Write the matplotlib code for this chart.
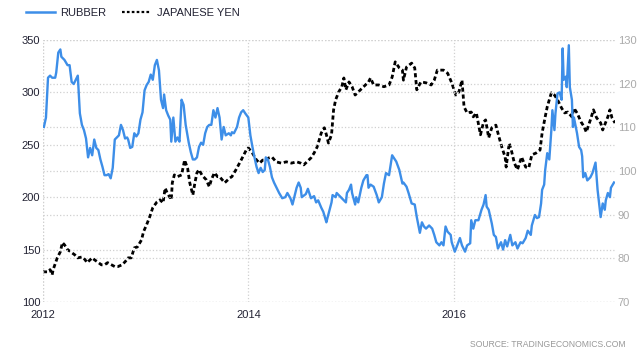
import matplotlib
matplotlib.use("Agg")
import matplotlib.pyplot as plt
from matplotlib.lines import Line2D

plt.rcParams['font.family'] = ['Liberation Sans', 'DejaVu Sans']

# rubber price (left axis), decimal years
rubber_t = [2012.01, 2012.03, 2012.05, 2012.07, 2012.09, 2012.12, 2012.13, 2012.15, 2012.17, 2012.18,
            2012.21, 2012.24, 2012.26, 2012.28, 2012.30, 2012.32, 2012.34, 2012.36, 2012.38, 2012.40,
            2012.42, 2012.44, 2012.46, 2012.48, 2012.50, 2012.52, 2012.54, 2012.56, 2012.58, 2012.60,
            2012.62, 2012.64, 2012.66, 2012.68, 2012.70, 2012.72, 2012.74, 2012.76, 2012.78, 2012.80,
            2012.82, 2012.83, 2012.85, 2012.87, 2012.89, 2012.91, 2012.93, 2012.95, 2012.97, 2012.99,
            2013.01, 2013.03, 2013.05, 2013.07, 2013.09, 2013.11, 2013.13, 2013.15, 2013.17, 2013.18,
            2013.20, 2013.22, 2013.24, 2013.25, 2013.27, 2013.29, 2013.31, 2013.33, 2013.35, 2013.37,
            2013.39, 2013.42, 2013.44, 2013.46, 2013.48, 2013.50, 2013.51, 2013.52, 2013.54, 2013.56,
            2013.58, 2013.60, 2013.62, 2013.64, 2013.66, 2013.68, 2013.70, 2013.72, 2013.74, 2013.76,
            2013.78, 2013.81, 2013.83, 2013.84, 2013.86, 2013.89, 2013.91, 2013.93, 2013.95, 2013.97,
            2014.00, 2014.02, 2014.04, 2014.06, 2014.08, 2014.10, 2014.12, 2014.14, 2014.16, 2014.17,
            2014.19, 2014.21, 2014.23, 2014.25, 2014.27, 2014.30, 2014.33, 2014.36, 2014.38, 2014.41,
            2014.43, 2014.47, 2014.49, 2014.51, 2014.52, 2014.56, 2014.58, 2014.61, 2014.64, 2014.66,
            2014.68, 2014.71, 2014.73, 2014.76, 2014.77, 2014.81, 2014.82, 2014.85, 2014.86, 2014.90,
            2014.93, 2014.95, 2014.96, 2014.98, 2015.00, 2015.01, 2015.04, 2015.05, 2015.07, 2015.10,
            2015.12, 2015.15, 2015.16, 2015.17, 2015.19, 2015.22, 2015.25, 2015.27, 2015.30, 2015.32,
            2015.34, 2015.37, 2015.40, 2015.44, 2015.47, 2015.50, 2015.51, 2015.54, 2015.56, 2015.59,
            2015.62, 2015.64, 2015.67, 2015.69, 2015.71, 2015.73, 2015.76, 2015.79, 2015.81, 2015.83,
            2015.86, 2015.88, 2015.90, 2015.92, 2015.94, 2015.97, 2015.98, 2016.01, 2016.03, 2016.06,
            2016.08, 2016.11, 2016.13, 2016.16, 2016.17, 2016.19, 2016.21, 2016.24, 2016.27, 2016.29,
            2016.31, 2016.32, 2016.34, 2016.37, 2016.39, 2016.41, 2016.43, 2016.46, 2016.48, 2016.50,
            2016.52, 2016.55, 2016.57, 2016.60, 2016.62, 2016.65, 2016.67, 2016.70, 2016.72, 2016.75,
            2016.76, 2016.79, 2016.81, 2016.83, 2016.85, 2016.86, 2016.88, 2016.89, 2016.91, 2016.93,
            2016.95, 2016.96, 2016.98, 2016.99, 2017.01, 2017.03, 2017.05, 2017.06, 2017.07, 2017.09,
            2017.10, 2017.12, 2017.13, 2017.15, 2017.16, 2017.17, 2017.18, 2017.20, 2017.22, 2017.24,
            2017.25, 2017.26, 2017.28, 2017.30, 2017.33, 2017.35, 2017.38, 2017.40, 2017.43, 2017.45,
            2017.47, 2017.48, 2017.50, 2017.52, 2017.53, 2017.56]
rubber_v = [267, 276, 314, 316, 314, 314, 319, 338, 341, 334,
            331, 326, 326, 310, 308, 312, 316, 280, 269, 264,
            256, 238, 247, 240, 255, 247, 245, 236, 229, 221,
            221, 222, 218, 228, 255, 257, 259, 269, 264, 256,
            257, 255, 247, 248, 261, 258, 261, 274, 281, 302,
            307, 310, 317, 312, 326, 331, 321, 293, 285, 298,
            283, 278, 274, 253, 276, 253, 257, 253, 293, 288,
            269, 252, 243, 236, 236, 238, 243, 248, 252, 250,
            261, 267, 269, 269, 283, 276, 285, 276, 255, 267,
            259, 261, 259, 262, 261, 267, 276, 281, 283, 280,
            276, 259, 248, 238, 229, 223, 228, 224, 226, 238,
            236, 229, 219, 214, 210, 204, 199, 200, 204, 199,
            193, 209, 214, 209, 200, 203, 208, 199, 201, 195,
            197, 190, 186, 176, 180, 195, 202, 200, 204, 200,
            197, 195, 204, 207, 212, 204, 193, 200, 195, 209,
            216, 221, 221, 209, 212, 210, 202, 195, 200, 213,
            223, 221, 240, 234, 226, 213, 214, 210, 204,
            194, 193, 181, 166, 176, 172, 170, 173, 170, 164,
            157, 154, 157, 154, 172, 167, 164, 157, 148, 153,
            161, 154, 148, 154, 156, 178, 170, 178, 178, 188,
            193, 202, 191, 188, 175, 164, 162, 151, 157, 150,
            159, 153, 164, 154, 157, 151, 157, 156, 161, 168,
            164, 173, 183, 180, 181, 194, 207, 212, 226, 242,
            236, 264, 283, 264, 280, 299, 300, 293, 342, 312,
            315, 305, 345, 305, 293, 267, 276, 271, 261, 248,
            245, 239, 219, 223, 216, 219, 223, 233, 207, 181,
            194, 188, 197, 204, 200, 209, 214]

# japanese yen per usd (right axis)
yen_t = [2012.00, 2012.03, 2012.05, 2012.07, 2012.09, 2012.10, 2012.14, 2012.17, 2012.19, 2012.21,
         2012.24, 2012.28, 2012.31, 2012.34, 2012.38, 2012.41, 2012.43, 2012.48, 2012.50, 2012.53,
         2012.57, 2012.60, 2012.63, 2012.67, 2012.70, 2012.73, 2012.77, 2012.80, 2012.83, 2012.86,
         2012.89, 2012.92, 2012.96, 2012.98, 2013.01, 2013.04, 2013.07, 2013.11, 2013.14, 2013.17,
         2013.19, 2013.21, 2013.25, 2013.26, 2013.28, 2013.31, 2013.35, 2013.38, 2013.41, 2013.43,
         2013.46, 2013.48, 2013.50, 2013.52, 2013.55, 2013.59, 2013.62, 2013.64, 2013.67, 2013.70,
         2013.72, 2013.77, 2013.82, 2013.84, 2013.88, 2013.93, 2013.98, 2014.00, 2014.04, 2014.08,
         2014.11, 2014.14, 2014.17, 2014.20, 2014.23, 2014.27, 2014.32, 2014.37, 2014.42, 2014.47,
         2014.51, 2014.54, 2014.57, 2014.61, 2014.64, 2014.67, 2014.71, 2014.74, 2014.76, 2014.78,
         2014.81, 2014.83, 2014.85, 2014.88, 2014.91, 2014.93, 2014.95, 2014.98, 2015.01, 2015.04,
         2015.07, 2015.11, 2015.14, 2015.17, 2015.19, 2015.22, 2015.27, 2015.32, 2015.37, 2015.40,
         2015.43, 2015.47, 2015.50, 2015.51, 2015.54, 2015.59, 2015.62, 2015.64, 2015.68, 2015.73,
         2015.78, 2015.81, 2015.84, 2015.90, 2015.94, 2015.98, 2016.02, 2016.05, 2016.08, 2016.10,
         2016.13, 2016.17, 2016.19, 2016.22, 2016.26, 2016.29, 2016.31, 2016.34, 2016.37, 2016.41,
         2016.44, 2016.47, 2016.50, 2016.51, 2016.54, 2016.56, 2016.59, 2016.62, 2016.66, 2016.70,
         2016.73, 2016.76, 2016.80, 2016.84, 2016.86, 2016.89, 2016.91, 2016.95, 2016.98, 2017.01,
         2017.05, 2017.08, 2017.11, 2017.15, 2017.17, 2017.20, 2017.24, 2017.27, 2017.29, 2017.33,
         2017.36, 2017.39, 2017.43, 2017.45, 2017.48, 2017.50, 2017.52, 2017.54, 2017.57]
yen_v = [76.9, 76.9, 76.9, 77.4, 76.2, 77.4, 80.1, 81.5, 83.6, 83.1,
         82.0, 81.3, 80.8, 80.1, 80.3, 79.7, 79.0, 80.1, 79.7, 79.2,
         78.5, 78.5, 79.0, 78.5, 78.1, 78.1, 78.5, 79.2, 80.1, 80.1,
         82.4, 82.6, 84.2, 86.1, 87.7, 89.5, 91.6, 92.9, 93.4, 92.7,
         96.1, 95.0, 93.4, 97.3, 99.1, 98.7, 99.1, 102.5, 100.5, 97.3,
         94.5, 97.3, 99.6, 100.3, 99.0, 98.0, 96.4, 98.0, 99.6, 98.7,
         98.7, 97.3, 98.4, 98.7, 100.3, 102.5, 104.8, 105.3, 104.1, 102.5,
         101.8, 102.5, 102.5, 103.0, 103.2, 102.1, 101.8, 102.1, 101.8, 102.1,
         101.8, 101.4, 102.1, 103.0, 104.1, 105.5, 108.7, 109.9, 108.3, 106.4,
         108.3, 114.0, 116.3, 118.1, 119.3, 121.3, 118.6, 120.4, 119.3, 117.4,
         118.1, 119.0, 119.7, 120.4, 121.3, 119.7, 119.7, 119.3, 119.7, 121.5,
         125.0, 123.6, 123.1, 120.8, 123.8, 124.7, 123.6, 118.6, 120.4, 120.2,
         119.7, 120.8, 123.1, 123.1, 122.4, 120.2, 117.4, 118.1, 120.8, 114.7,
         113.3, 113.5, 112.4, 113.3, 108.3, 111.2, 111.7, 107.6, 109.9, 110.5,
         107.8, 105.3, 103.2, 100.9, 106.4, 104.8, 101.8, 100.3, 103.2, 100.9,
         100.7, 103.7, 104.1, 104.8, 108.7, 112.4, 114.7, 117.9, 117.4, 116.3,
         114.4, 113.3, 113.5, 112.4, 114.4, 113.3, 111.2, 110.1, 108.9, 111.7,
         114.0, 112.2, 111.0, 109.4, 111.2, 112.4, 114.0, 112.2, 111.0]

left_ticks = [100, 150, 200, 250, 300, 350]
right_ticks = [70, 80, 90, 100, 110, 120, 130]
year_ticks = [2012, 2014, 2016]

blue = '#3d8ee8'
grid_kw = dict(color='#d0d0d0', linestyle=':', linewidth=0.9)

fig = plt.figure(figsize=(6.4, 3.54), dpi=100)
ax = fig.add_axes([0.067, 0.147, 0.894, 0.74])
ax2 = ax.twinx()

ax.plot(rubber_t, rubber_v, color=blue, linewidth=1.7, zorder=3)
ax2.plot(yen_t, yen_v, color='black', linewidth=2.0, linestyle=(0, (1.5, 1)), zorder=3)

ax.set_xlim(2012, 2017.57)
ax.set_ylim(100, 350)
ax2.set_ylim(70, 130)
ax.set_yticks(left_ticks)
ax2.set_yticks(right_ticks)
ax.set_xticks(year_ticks)
ax.set_xticklabels([str(y) for y in year_ticks])

ax.grid(True, **grid_kw)
ax2.grid(True, axis='y', **grid_kw)
ax.axvline(2012, **grid_kw)
ax.set_zorder(ax2.get_zorder() + 1)
ax.patch.set_visible(False)

for a in (ax, ax2):
    for s in a.spines.values():
        s.set_visible(False)
    a.tick_params(length=0)
ax.tick_params(axis='y', labelsize=8, labelcolor='#222233', pad=2)
ax.tick_params(axis='x', labelsize=8, labelcolor='#222233', pad=6)
ax2.tick_params(axis='y', labelsize=8, labelcolor='#aaaaaa', pad=2)

handles = [Line2D([], [], color=blue, linewidth=1.8),
           Line2D([], [], color='black', linewidth=1.6, linestyle=(0, (1.2, 1)))]
fig.legend(handles, ['RUBBER', 'JAPANESE YEN'], loc='upper left', bbox_to_anchor=(0.025, 1.005),
           ncol=2, frameon=False, fontsize=8, handlelength=2.6, handletextpad=0.5,
           columnspacing=1.4, labelcolor='#222233')

fig.text(0.977, 0.015, 'SOURCE: TRADINGECONOMICS.COM', ha='right', va='bottom',
         fontsize=6.2, color='#999999')

fig.savefig('out.png', dpi=100)
